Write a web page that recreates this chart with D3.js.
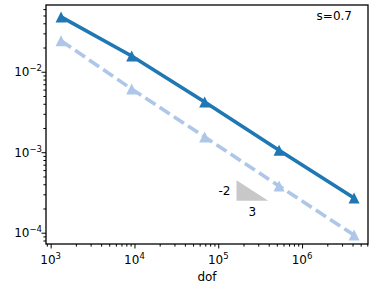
<!DOCTYPE html>
<html><head><meta charset="utf-8">
<script src="https://cdn.jsdelivr.net/npm/d3@7"></script>
<style>body{margin:0;background:#fff}svg{display:block}text{font-family:"DejaVu Sans",sans-serif}</style>
</head><body><svg id="c" width="374" height="290"></svg>
<script>
const dof = [1331, 9261, 68921, 531441, 4173281];
const errSolid = [0.048, 0.0157, 0.0042, 0.00106, 0.00027];
const errDashed = [0.0243, 0.0061, 0.00155, 0.00038, 0.0000935];
const xMajor = [1e3, 1e4, 1e5, 1e6];
const xMajorExp = ["3", "4", "5", "6"];
const yMajor = [1e-2, 1e-3, 1e-4];
const yMajorExp = ["\u22122", "\u22123", "\u22124"];
const xDomain = [880, 6.12e6];
const yDomain = [7.24e-5, 0.0675];
const slopeX = [1.65e5, 3.95e5];
const slopeYBase = 2.5e-4;
const slopeRate = [-2, 3];
const annotation = "s=0.7";
const xLabel = "dof";

const L = 46, R = 368, T = 5, B = 244;
const svg = d3.select("#c");
const x = d3.scaleLog().domain(xDomain).range([L, R]);
const y = d3.scaleLog().domain(yDomain).range([B, T]);

function minors(dom) {
  const out = [];
  const a = Math.floor(Math.log10(dom[0])), b = Math.ceil(Math.log10(dom[1]));
  for (let e = a; e <= b; e++) for (let m = 2; m <= 9; m++) {
    const v = m * Math.pow(10, e);
    if (v >= dom[0] && v <= dom[1]) out.push(v);
  }
  return out;
}

// slope triangle
const sx0 = x(slopeX[0]), sx1 = x(slopeX[1]);
const yTop = slopeYBase * Math.pow(slopeX[1] / slopeX[0], -slopeRate[0] / slopeRate[1]);
svg.append("path")
  .attr("d", `M${sx0},${y(yTop)}L${sx0},${y(slopeYBase)}L${sx1},${y(slopeYBase)}Z`)
  .attr("fill", "#c8c8c8");
svg.append("text").attr("x", sx0 - 6).attr("y", (y(yTop) + y(slopeYBase)) / 2 + 4.5)
  .attr("text-anchor", "end").attr("font-size", 12).text(String(slopeRate[0]));
svg.append("text").attr("x", (sx0 + sx1) / 2).attr("y", y(slopeYBase) + 15.5)
  .attr("text-anchor", "middle").attr("font-size", 12).text(String(slopeRate[1]));

// lines
const line = d3.line().x((d, i) => x(dof[i])).y(d => y(d));
function triPath(cx, cy, s) {
  const h = s / 2;
  return `M${cx},${cy - h}L${cx + h},${cy + h}L${cx - h},${cy + h}Z`;
}
const series = [
  { vals: errDashed, color: "#aec7e8", dash: "12,5" },
  { vals: errSolid, color: "#1f77b4", dash: null }
];
series.forEach(s => {
  svg.append("path").attr("d", line(s.vals)).attr("fill", "none")
    .attr("stroke", s.color).attr("stroke-width", 3.6)
    .attr("stroke-dasharray", s.dash);
  svg.append("g").selectAll("path").data(s.vals).join("path")
    .attr("d", (d, i) => triPath(x(dof[i]), y(d), 11))
    .attr("fill", s.color);
});

// axes ticks
const gx = svg.append("g").attr("transform", `translate(0,${B})`);
gx.call(d3.axisBottom(x).tickValues(xMajor).tickFormat("").tickSize(4.5).tickSizeOuter(0));
gx.append("g").call(d3.axisBottom(x).tickValues(minors(xDomain)).tickFormat("").tickSize(2.6).tickSizeOuter(0));
const gy = svg.append("g").attr("transform", `translate(${L},0)`);
gy.call(d3.axisLeft(y).tickValues(yMajor).tickFormat("").tickSize(4.5).tickSizeOuter(0));
gy.append("g").call(d3.axisLeft(y).tickValues(minors(yDomain)).tickFormat("").tickSize(2.6).tickSizeOuter(0));
svg.selectAll(".domain").remove();
gx.selectAll("line").attr("stroke", "#000").attr("stroke-width", 1);
gy.selectAll("line").attr("stroke", "#000").attr("stroke-width", 1);

// tick labels
xMajor.forEach((v, i) => {
  const t = svg.append("text").attr("x", x(v)).attr("y", 264).attr("text-anchor", "middle").attr("font-size", 12);
  t.append("tspan").text("10");
  t.append("tspan").attr("font-size", 8.5).attr("dy", -5).text(xMajorExp[i]);
});
yMajor.forEach((v, i) => {
  const t = svg.append("text").attr("x", 42).attr("y", y(v) + 4.5).attr("text-anchor", "end").attr("font-size", 12);
  t.append("tspan").text("10");
  t.append("tspan").attr("font-size", 8.5).attr("dy", -5).text(yMajorExp[i]);
});

// frame
svg.append("rect").attr("x", L).attr("y", T).attr("width", R - L).attr("height", B - T)
  .attr("fill", "none").attr("stroke", "#000").attr("stroke-width", 1.3);

svg.append("text").attr("x", (L + R) / 2).attr("y", 281).attr("text-anchor", "middle")
  .attr("font-size", 12).text(xLabel);
svg.append("text").attr("x", 352).attr("y", 20).attr("text-anchor", "end")
  .attr("font-size", 12).text(annotation);
</script></body></html>
